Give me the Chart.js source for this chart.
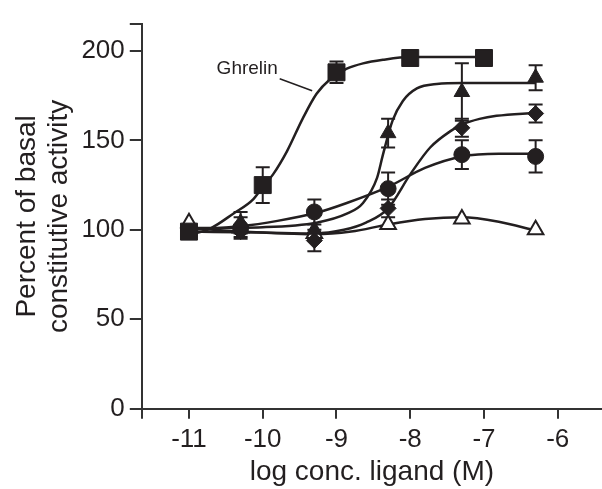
<!DOCTYPE html>
<html>
<head>
<meta charset="utf-8">
<script src="https://cdn.jsdelivr.net/npm/chart.js@4/dist/chart.umd.min.js"></script>
<style>
  body { margin: 0; background: #fff; }
  #wrap { width: 602px; height: 489px; }
</style>
</head>
<body>
<div id="wrap"><canvas id="chart" width="602" height="489"></canvas></div>
<script>
// values (log M vs % of basal)
const xTickValues = [-11, -10, -9, -8, -7, -6]
const yTickValues = [0, 50, 100, 150, 200]
const xMin = -11.64, xMax = -5.4
const yMin = 0, yMax = 215

const ghrelinX = [-11, -10, -9, -8, -7]
const ghrelinY = [99, 125, 188, 196, 196]
const ghrelinErr = [0, 10, 6, 0, 0]

const triX = [-10.3, -9.3, -8.3, -7.3, -6.3]
const triY = [104, 100, 154, 177, 185]
const triErr = [6, 0, 8, 16, 7]

const circX = [-10.3, -9.3, -8.3, -7.3, -6.3]
const circY = [101, 110, 123, 142, 141]
const circErr = [6, 7, 9, 8, 9]

const diaX = [-10.3, -9.3, -8.3, -7.3, -6.3]
const diaY = [99, 94, 112, 157, 165]
const diaErr = [3, 6, 5, 5, 5]

const openX = [-11, -10.3, -9.3, -8.3, -7.3, -6.3]
const openY = [104, 101, 98, 103, 106, 100]

// fitted curves
const ghrelinCurveX = [-11, -10.7, -10.4, -10.13, -10, -9.86, -9.67, -9.46, -9.27, -9.09, -8.86, -8.64, -8.37, -8, -7]
const ghrelinCurveY = [97, 101, 109, 117, 124, 131, 144, 162, 176, 184, 190, 193, 195, 196.5, 196.5]
const triCurveX = [-11, -10, -9.27, -8.86, -8.64, -8.45, -8.37, -8.24, -8.1, -7.91, -7.64, -7.29, -6.3]
const triCurveY = [101, 101.5, 104, 109, 115, 129, 142, 161, 172, 179, 181.5, 182, 182]
const circCurveX = [-11, -10.3, -9.8, -9.27, -8.86, -8.3, -7.8, -7.3, -6.8, -6.3]
const circCurveY = [100, 102, 105, 109.5, 115, 124, 134.6, 141, 142.5, 142.5]
const diaCurveX = [-11, -10, -9.3, -8.9, -8.6, -8.3, -8.0, -7.73, -7.46, -7.29, -7.06, -6.83, -6.3]
const diaCurveY = [99, 98.5, 98, 100, 104, 112, 131, 146, 155, 159, 162, 163.7, 165.4]
const openCurveX = [-11, -10.3, -9.3, -8.8, -8.3, -7.8, -7.3, -6.8, -6.3]
const openCurveY = [101, 99, 97.5, 99, 103, 106, 107, 104.5, 99.5]

const labelText = 'Ghrelin'
const labelAt = [-10.21, 190]
const leaderFrom = [-9.77, 184.4]
const leaderTo = [-9.33, 177.7]

const ink = '#231f20'
const fontFamily = '"Liberation Sans", Arial, Helvetica, sans-serif'

const pts = (xs, ys) => xs.map((x, i) => ({x: x, y: ys[i]}))

function markers(xs, ys, errs, style, radius, fill) {
  return {
    data: pts(xs, ys),
    errors: errs,
    showLine: false,
    pointStyle: style,
    pointRadius: radius,
    pointHoverRadius: radius,
    backgroundColor: fill,
    borderColor: ink,
    borderWidth: fill === '#fff' ? 2 : 1,
  }
}

function curve(xs, ys) {
  return {
    data: pts(xs, ys),
    showLine: true,
    pointRadius: 0,
    borderColor: ink,
    borderWidth: 2.5,
    cubicInterpolationMode: 'monotone',
    fill: false,
  }
}

const errorBars = {
  id: 'errorBars',
  beforeDatasetsDraw(chart) {
    const {ctx, scales: {x, y}} = chart
    ctx.save()
    ctx.strokeStyle = ink
    ctx.lineWidth = 2
    chart.data.datasets.forEach(ds => {
      if (!ds.errors) return
      ds.data.forEach((p, j) => {
        const e = ds.errors[j]
        if (!e) return
        const px = x.getPixelForValue(p.x)
        const top = y.getPixelForValue(p.y + e)
        const bot = y.getPixelForValue(p.y - e)
        ctx.beginPath()
        ctx.moveTo(px, top); ctx.lineTo(px, bot)
        ctx.moveTo(px - 7, top); ctx.lineTo(px + 7, top)
        ctx.moveTo(px - 7, bot); ctx.lineTo(px + 7, bot)
        ctx.stroke()
      })
    })
    ctx.restore()
  }
}

const ghrelinLabel = {
  id: 'ghrelinLabel',
  afterDatasetsDraw(chart) {
    const {ctx, scales: {x, y}} = chart
    ctx.save()
    ctx.fillStyle = ink
    ctx.font = '19px ' + fontFamily
    ctx.textAlign = 'center'
    ctx.textBaseline = 'middle'
    ctx.fillText(labelText, x.getPixelForValue(labelAt[0]), y.getPixelForValue(labelAt[1]))
    ctx.strokeStyle = ink
    ctx.lineWidth = 1.5
    ctx.beginPath()
    ctx.moveTo(x.getPixelForValue(leaderFrom[0]), y.getPixelForValue(leaderFrom[1]))
    ctx.lineTo(x.getPixelForValue(leaderTo[0]), y.getPixelForValue(leaderTo[1]))
    ctx.stroke()
    ctx.restore()
  }
}

Chart.defaults.font.family = fontFamily
Chart.defaults.color = ink

const ctx = document.getElementById('chart').getContext('2d')
const chart = new Chart(ctx, {
  type: 'scatter',
  data: {
    datasets: [
      markers(ghrelinX, ghrelinY, ghrelinErr, 'rect', 12, ink),
      markers(triX, triY, triErr, 'triangle', 9, ink),
      markers(diaX, diaY, diaErr, 'rectRot', 8, ink),
      markers(circX, circY, circErr, 'circle', 8, ink),
      markers(openX, openY, null, 'triangle', 9, '#fff'),
      curve(ghrelinCurveX, ghrelinCurveY),
      curve(triCurveX, triCurveY),
      curve(diaCurveX, diaCurveY),
      curve(circCurveX, circCurveY),
      curve(openCurveX, openCurveY),
    ],
  },
  options: {
    animation: false,
    responsive: false,
    maintainAspectRatio: false,
    clip: false,
    layout: { autoPadding: false, padding: { left: 11, top: 24, right: 0, bottom: 3 } },
    plugins: {
      legend: { display: false },
      tooltip: { enabled: false },
    },
    scales: {
      x: {
        type: 'linear',
        min: xMin,
        max: xMax,
        afterBuildTicks: scale => { scale.ticks = [xMin, ...xTickValues].map(v => ({value: v})) },
        afterFit: scale => { scale.paddingRight = 0; scale.paddingLeft = 0 },
        ticks: {
          font: { size: 26 },
          color: ink,
          padding: 5,
          maxRotation: 0,
          callback: v => xTickValues.includes(v) ? String(v) : '',
        },
        grid: { drawOnChartArea: false, drawTicks: true, tickLength: 10, color: '#333', lineWidth: 2 },
        border: { display: true, color: '#333', width: 2 },
        title: { display: true, text: 'log conc. ligand (M)', font: { size: 28, lineHeight: 1.0 }, color: ink, padding: { top: -2, bottom: 0 } },
      },
      y: {
        type: 'linear',
        min: yMin,
        max: yMax,
        afterBuildTicks: scale => { scale.ticks = [...yTickValues, yMax].map(v => ({value: v})) },
        ticks: {
          font: { size: 26 },
          color: ink,
          padding: 5,
          callback: v => yTickValues.includes(v) ? String(v) : '',
        },
        grid: { drawOnChartArea: false, drawTicks: true, tickLength: 12, color: '#333', lineWidth: 2 },
        border: { display: true, color: '#333', width: 2 },
        title: {
          display: true,
          text: ['Percent of basal', 'constitutive activity'],
          font: { size: 28, lineHeight: 1.15 },
          color: ink,
          padding: { top: 0, bottom: 1 },
        },
      },
    },
  },
  plugins: [errorBars, ghrelinLabel],
})
</script>
</body>
</html>
